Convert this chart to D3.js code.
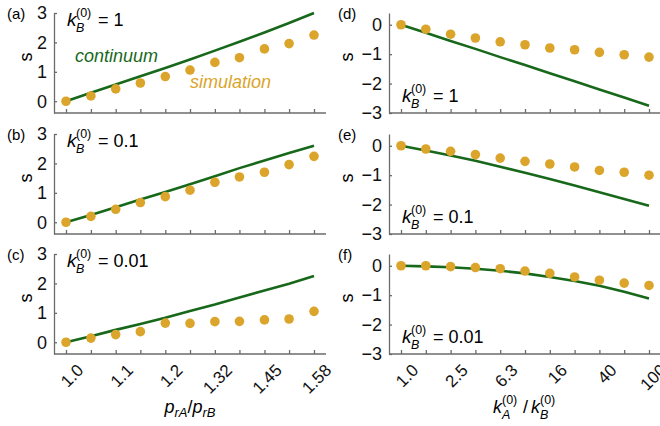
<!DOCTYPE html>
<html>
<head>
<meta charset="utf-8">
<script src="https://cdn.jsdelivr.net/npm/d3@7"></script>
<style>
body{margin:0;background:#fff;}
text{font-family:"Liberation Sans",Arial,sans-serif;}
</style>
</head>
<body>
<div id="chart"></div>
<script>
// x values (log spaced)
var pRatio=[1.0,1.047,1.096,1.147,1.201,1.257,1.316,1.377,1.442,1.509,1.58];
var pTicks=["1.0","","1.1","","1.2","","1.32","","1.45","","1.58"];
var kRatio=[1,1.585,2.512,3.981,6.31,10,15.85,25.12,39.81,63.1,100];
var kTicks=["1.0","","2.5","","6.3","","16","","40","","100"];
var kbLabels=["1","0.1","0.01"];

// left column: s vs pRatio
var simA=[0,0.18,0.42,0.62,0.84,1.06,1.32,1.48,1.78,1.96,2.25];
var contA=[0,0.29,0.57,0.85,1.13,1.42,1.72,2.02,2.34,2.66,3.0];
var simB=[0,0.20,0.44,0.67,0.87,1.09,1.36,1.54,1.70,1.96,2.24];
var contB=[0,0.25,0.51,0.77,1.03,1.29,1.56,1.84,2.1,2.35,2.6];
var simC=[0,0.14,0.26,0.36,0.65,0.64,0.70,0.71,0.76,0.79,1.05];
var contC=[0,0.2,0.42,0.62,0.83,1.06,1.28,1.52,1.76,1.99,2.25];
// right column: s vs kRatio
var simD=[0,-0.15,-0.32,-0.45,-0.58,-0.68,-0.79,-0.85,-0.94,-1.02,-1.10];
var contD=[0,-0.27,-0.55,-0.82,-1.1,-1.37,-1.65,-1.92,-2.2,-2.47,-2.75];
var simE=[0,-0.11,-0.19,-0.30,-0.42,-0.53,-0.62,-0.72,-0.84,-0.90,-1.0];
var contE=[0,-0.16,-0.33,-0.51,-0.71,-0.92,-1.13,-1.35,-1.58,-1.81,-2.04];
var simF=[0,0,-0.03,-0.06,-0.10,-0.18,-0.26,-0.38,-0.49,-0.59,-0.67];
var contF=[0,-0.02,-0.05,-0.1,-0.17,-0.26,-0.38,-0.52,-0.68,-0.88,-1.11];

var green="#17681a", gold="#dba42a", axisCol="#6b6b6b";
var width=660,height=426;

var svg=d3.select("#chart").append("svg")
    .attr("width",width).attr("height",height);

var tops=[13,134,254], ph=100;

var xL=d3.scaleLog().domain([1,1.58]).range([66,314]);
var xR=d3.scaleLog().domain([1,100]).range([401,649]);

var panels=[
    {id:"(a)",col:0,row:0,sim:simA,cont:contA,kb:kbLabels[0]},
    {id:"(b)",col:0,row:1,sim:simB,cont:contB,kb:kbLabels[1]},
    {id:"(c)",col:0,row:2,sim:simC,cont:contC,kb:kbLabels[2]},
    {id:"(d)",col:1,row:0,sim:simD,cont:contD,kb:kbLabels[0]},
    {id:"(e)",col:1,row:1,sim:simE,cont:contE,kb:kbLabels[1]},
    {id:"(f)",col:1,row:2,sim:simF,cont:contF,kb:kbLabels[2]}
];

// k with stacked sub/superscript
function kSym(t,x,sub,size){
    t.append("text").attr("x",x).attr("font-size",size).attr("font-style","italic").text("k");
    t.append("text").attr("x",x+9).attr("y",-9).attr("font-size",12.5).text("(0)");
    t.append("text").attr("x",x+9).attr("y",6).attr("font-size",12.5).attr("font-style","italic").text(sub);
}

function kbLabel(g,x,y,val){
    var t=g.append("g").attr("transform","translate("+x+","+y+")");
    kSym(t,0,"B",19);
    t.append("text").attr("x",31).attr("font-size",18).text("= "+val);
}

panels.forEach(function(p){
    var top=tops[p.row];
    var x=p.col==0?xL:xR;
    var xs=p.col==0?pRatio:kRatio;
    var y=d3.scaleLinear()
        .domain(p.col==0?[-0.4,3]:[-3,0.4])
        .range([top+ph,top]);
    var g=svg.append("g");
    var axX=x.range()[0]-12, axEnd=x.range()[1]+12;

    // y axis
    var ya=g.append("g").attr("transform","translate("+axX+",0)")
        .call(d3.axisLeft(y).tickValues(p.col==0?[0,1,2,3]:[0,-1,-2,-3])
            .tickSizeInner(-3).tickSizeOuter(0).tickPadding(7)
            .tickFormat(function(d){return d<0?"\u2212"+(-d):d;}));
    ya.selectAll("text").attr("font-size",18).attr("fill","#111")
        .attr("font-family","Liberation Sans,Arial,sans-serif");
    ya.selectAll("line,path").attr("stroke",axisCol).attr("stroke-width",1.3);

    // x axis
    var xa=g.append("g").attr("transform","translate(0,"+(top+ph)+")")
        .call(d3.axisBottom(x).tickValues(xs).tickSizeInner(-4).tickSizeOuter(0).tickFormat(""));
    xa.select(".domain").remove();
    xa.selectAll("line").attr("stroke",axisCol).attr("stroke-width",1.3);
    xa.append("line").attr("x1",axX).attr("x2",axEnd)
        .attr("stroke",axisCol).attr("stroke-width",1.3);

    if(p.row==2){
        var labs=p.col==0?pTicks:kTicks;
        g.selectAll(".xl").data(xs).enter().append("text")
            .attr("transform",function(d){return "translate("+(x(d)+10)+","+(top+ph+9)+") rotate(-45)";})
            .attr("text-anchor","end").attr("dy","0.7em")
            .attr("font-size",17).attr("fill","#111")
            .text(function(d,i){return labs[i];});
    }

    // continuum line
    g.append("path").datum(p.cont)
        .attr("d",d3.line().x(function(d,i){return x(xs[i]);}).y(function(d){return y(d);}))
        .attr("fill","none").attr("stroke",green).attr("stroke-width",2.6);

    // simulation dots
    g.selectAll("circle").data(p.sim).enter().append("circle")
        .attr("cx",function(d,i){return x(xs[i]);})
        .attr("cy",function(d){return y(d);})
        .attr("r",4.8).attr("fill",gold);

    // panel letter and s label
    g.append("text").attr("x",p.col==0?7:338).attr("y",top+6)
        .attr("font-size",15).text(p.id);
    g.append("text").attr("transform","translate("+(p.col==0?32:353)+","+(top+44)+") rotate(-90)")
        .attr("text-anchor","middle").attr("font-size",18).text("s");

    if(p.col==0) kbLabel(g,67,top+13,p.kb);
    else kbLabel(g,402,top+89,p.kb);
});

// legend-like labels
svg.append("text").attr("x",75).attr("y",62).attr("font-size",18)
    .attr("font-style","italic").attr("fill",green).text("continuum");
svg.append("text").attr("x",190).attr("y",88).attr("font-size",18)
    .attr("font-style","italic").attr("fill",gold).text("simulation");

// axis titles
var tl=svg.append("text").attr("x",190).attr("y",413).attr("text-anchor","middle").attr("font-size",18);
tl.append("tspan").attr("font-style","italic").text("p");
tl.append("tspan").attr("font-size",13).attr("font-style","italic").attr("dy",4).text("rA");
tl.append("tspan").attr("dy",-4).text("/");
tl.append("tspan").attr("font-style","italic").text("p");
tl.append("tspan").attr("font-size",13).attr("font-style","italic").attr("dy",4).text("rB");

var tr=svg.append("g").attr("transform","translate(493,413)");
kSym(tr,0,"A",18);
tr.append("text").attr("x",30).attr("font-size",18).text("/");
kSym(tr,38,"B",18);
</script>
</body>
</html>
